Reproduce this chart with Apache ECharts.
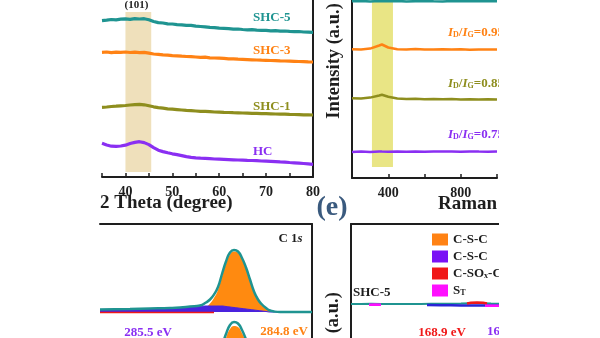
<!DOCTYPE html>
<html><head><meta charset="utf-8">
<script src="https://cdn.jsdelivr.net/npm/echarts@6/dist/echarts.min.js"></script>
<style>html,body{margin:0;padding:0;background:#fff}#c{width:600px;height:338px}</style>
</head><body><div id="c"></div>
<script>
const SERIF = '"Liberation Serif","Times New Roman",serif';

// ---------- XRD (2 Theta) ----------
const twoTheta = [35,36,37,38,39,40,41,42,43,44,45,46,47,48,49,50,51,52,53,54,55,56,57,58,59,60,61,62,63,64,65,66,67,68,69,70,71,72,73,74,75,76,77,78,79,80];
const xrdSHC5 = [156.3,156.8,157.5,157.2,157.8,158.2,157.6,158.4,158.0,158.3,157.2,155.5,154.4,154.0,153.2,153.0,152.4,152.2,151.7,151.6,150.8,150.5,150.2,149.6,149.4,148.8,148.6,148.4,147.9,148.0,147.5,147.2,147.3,146.9,146.6,146.7,146.2,146.3,145.9,146.0,145.6,145.4,145.5,145.0,144.9,144.7];
const xrdSHC3 = [124.7,125.0,124.4,124.9,124.6,125.0,124.5,124.8,124.4,124.6,123.8,123.0,122.7,122.1,121.8,121.4,121.2,120.8,120.5,120.3,120.0,119.7,119.8,119.2,119.0,118.8,118.6,118.2,118.1,117.8,117.6,117.4,117.2,117.0,116.8,116.7,116.5,116.4,116.1,116.0,115.9,115.7,115.5,115.4,115.1,115.0];
const xrdSHC1 = [69.7,70.0,70.5,70.8,71.2,71.5,72.0,72.4,72.7,72.2,71.2,70.2,69.4,68.8,68.2,67.8,67.4,67.0,66.6,66.3,66.0,65.7,65.6,65.3,65.0,64.8,64.6,64.5,64.3,64.2,64.0,63.9,63.7,63.7,63.4,63.3,63.2,63.0,62.9,62.8,62.6,62.5,62.4,62.2,62.1,62.0];
const xrdHC = [33.7,32.0,30.8,30.6,31.0,31.8,33.5,34.6,35.3,34.4,32.4,29.4,26.8,25.4,24.2,23.2,22.4,21.4,20.4,19.7,19.2,18.8,18.6,18.3,18.0,17.8,17.6,17.4,17.2,17.0,16.8,16.6,16.5,16.3,16.0,15.8,15.6,15.4,15.1,14.9,14.5,14.2,13.9,13.5,13.1,12.7];
const xrdBand = [40, 45.5];
const xrdBandY = [5, 165];

// ---------- Raman ----------
const ramanShift = [200,250,300,350,365,400,450,500,550,600,650,700,750,800,850,900,950,1000];
const ramanSHC5 = [176.8,177.0,176.6,176.9,176.7,176.8,177.0,176.6,176.8,176.9,176.7,176.6,176.9,176.8,176.7,176.9,176.8,176.7];
const ramanSHC3 = [128.7,128.6,129.4,132.5,133.5,130.5,128.8,128.5,129.0,128.6,128.4,128.8,128.5,128.7,128.3,128.6,128.4,128.5];
const ramanSHC1 = [79.7,79.5,80.4,82.5,83.2,81.2,79.5,79.0,79.2,78.8,79.0,78.7,78.9,78.6,78.8,78.5,78.7,78.4];
const ramanHC = [26.0,26.4,26.1,26.5,26.4,26.2,26.6,26.3,26.5,26.2,26.6,26.4,26.5,26.3,26.6,26.4,26.3,26.5];
const ramanBand = [310, 426];
const ramanBandY = [11, 178];
const ramanRatios = ['0.95', '0.85', '0.75'];

// ---------- XPS C 1s ----------
const c1sBE = [291.5,290,289,288,287.5,287,286.5,286.2,286.0,285.8,285.6,285.4,285.2,285.0,284.8,284.6,284.4,284.2,284.0,283.8,283.6,283.4,283.2,283.0,282.8,282.5,282,281.5,280.9];
const c1sSp2 = [112,112,112,112,112,112.5,113.5,117,120.5,126,134,147.5,160,169.5,172.5,171,164.5,155,143,131,123.5,118.5,115.5,113,112.5,112,112,112,112];
const c1sCS = [114.5,115,115.5,116,116.5,117,117.5,118,118,118,118,118,117.5,117,116.5,116,115.5,115,114.5,114,113.5,113,112.5,112,112,112,112,112,112];
const c1sTotal = [114.5,115,115.5,116,116.5,117.5,118.5,121.5,124.5,129.5,137,150,162.5,171.5,174,172.5,166,156.5,144.5,132.5,124.5,119.5,116,113.5,112.5,112,112,112,112];
const c1sRedBE = [291.5,290,288.5,287,285.8];
const c1sRed = [111.4,111.6,111.4,111.6,111.5];
const c1sBE2 = [286.0,285.8,285.6,285.4,285.2,285.0,284.8,284.6,284.4,284.2,284.0,283.8,283.6];
const c1sTotal2 = [52,57,65,78,90,99,102,100.5,94,84.5,72.5,60.5,52.5];
const c1sSp2b = [48,53,60,73,86,95,98,97,91,82,70,58,50];
const c1sBaseline = 112;

// ---------- XPS S 2p ----------
const s2pBE = [173,172.5,172,171.5,171,170.5,170,169.5,169,168.5,168,167.5,167,166.5,166,165.5,165,164.5,164];
const s2pSHC5 = [120,120,120.2,120,120,120.1,120,120,120.2,120.3,120.3,120.5,120.8,120.8,120.5,120.3,120.2,120,120];
const s2pCSC1BE = [165,164.5,164,163.5];
const s2pCSC1 = [119,119.2,119.2,119];
const s2pCSC2BE = [169.2,168.5,168,167.5,167,166.5,166,165.5,165,164.5,164];
const s2pCSC2 = [119,118.8,118.8,118.6,118.6,118.5,118.5,118.6,118.6,118.7,118.8];
const s2pCSOxBE = [167.2,167,166.7,166.4,166.2];
const s2pCSOx = [120.5,121.3,121.5,121.3,120.5];
const s2pSTBE = [172.1,171.8,171.5,171.4,166.3,165.9,165.5];
const s2pST = [119.2,119.4,119.2,'-',118.2,118.3,118.2];

const C = {teal:'#1f9491', orange:'#ff8214', olive:'#8e8e1e', purple:'#8a2ff2',
           dark:'#1e1e1e', blue:'#4a22de', red:'#f01818', magenta:'#ff10ff', legPurple:'#7a12f5'};

const zip = (xs, ys) => xs.map((x, i) => [x, ys[i]]);

const axisLineStyle = {color: C.dark, width: 2};
const tickLabel = {color: C.dark, fontFamily: SERIF, fontWeight: 'bold', fontSize: 14, margin: 8};

function lineS(name, xi, xs, ys, color, width, extra) {
  return Object.assign({
    name, type: 'line', xAxisIndex: xi, yAxisIndex: xi, data: zip(xs, ys),
    symbol: 'none', silent: true, z: 3, color: color,
    lineStyle: {color: color, width: width}
  }, extra || {});
}

const series = [
  {type:'line', xAxisIndex:0, yAxisIndex:0, data:[], z:1, silent:true,
   markArea:{silent:true, itemStyle:{color:'#efe0bb'}, data:[[{coord:[xrdBand[0], xrdBandY[0]]},{coord:[xrdBand[1], xrdBandY[1]]}]]}},
  lineS('XRD SHC-5', 0, twoTheta, xrdSHC5, C.teal, 3.2),
  lineS('XRD SHC-3', 0, twoTheta, xrdSHC3, C.orange, 3.2),
  lineS('XRD SHC-1', 0, twoTheta, xrdSHC1, C.olive, 3.2),
  lineS('XRD HC', 0, twoTheta, xrdHC, C.purple, 3.2),

  {type:'line', xAxisIndex:1, yAxisIndex:1, data:[], z:1, silent:true,
   markArea:{silent:true, itemStyle:{color:'#e9e585'}, data:[[{coord:[ramanBand[0], ramanBandY[0]]},{coord:[ramanBand[1], ramanBandY[1]]}]]}},
  lineS('Raman SHC-5', 1, ramanShift, ramanSHC5, C.teal, 2.5),
  lineS('Raman SHC-3', 1, ramanShift, ramanSHC3, C.orange, 2.5),
  lineS('Raman SHC-1', 1, ramanShift, ramanSHC1, C.olive, 2.5),
  lineS('Raman HC', 1, ramanShift, ramanHC, C.purple, 2.5),

  lineS('C1s sp2', 2, c1sBE, c1sSp2, C.orange, 0, {smooth:true, areaStyle:{color:'#ff8a10', opacity:1, origin:c1sBaseline}}),
  lineS('C1s C-S', 2, c1sBE, c1sCS, C.blue, 1, {smooth:true, areaStyle:{color:C.blue, opacity:1, origin:c1sBaseline}}),
  lineS('C1s red', 2, c1sRedBE, c1sRed, C.red, 1.5),
  lineS('C1s total', 2, c1sBE, c1sTotal, C.teal, 2.5, {smooth:true}),
  lineS('C1s sp2 b', 2, c1sBE2, c1sSp2b, C.orange, 0, {smooth:true, areaStyle:{color:'#ff8a10', opacity:1}}),
  lineS('C1s total b', 2, c1sBE2, c1sTotal2, C.teal, 2.5, {smooth:true}),

  lineS('SHC-5 S2p', 3, s2pBE, s2pSHC5, C.teal, 2),
  lineS('C-S-C 3/2', 3, s2pCSC1BE, s2pCSC1, C.orange, 2.5),
  lineS('C-S-C 1/2', 3, s2pCSC2BE, s2pCSC2, C.legPurple, 2.5, {lineStyle:{color:'#2a24d6', width:2.5}}),
  lineS('C-SOx-C', 3, s2pCSOxBE, s2pCSOx, C.red, 2.5),
  lineS('ST', 3, s2pSTBE, s2pST, C.magenta, 2.5)
];

const legendText = {'C-S-C 3/2':'C-S-C', 'C-S-C 1/2':'C-S-C', 'C-SOx-C':'C-SO{sub|x}-C', 'ST':'S{sub|T}'};

function T(text, x, y, size, color, opts) {
  opts = opts || {};
  return Object.assign({
    type:'text', x:x, y:y, z:50, silent:true,
    style:{text:text, font:(opts.italic?'italic ':'') + (opts.weight||'bold') + ' ' + size + 'px ' + SERIF,
           fill:color, align:opts.align||'left', textAlign:opts.align||'left',
           verticalAlign:'middle', textVerticalAlign:'middle', rich:opts.rich}
  }, opts.el || {});
}

function ratioLabel(val, color, x, y) {
  const base = {fill:color, fontFamily:SERIF, fontWeight:'bold', fontSize:13, lineHeight:14, verticalAlign:'bottom'};
  return T('{i|I}{s|D}{n|/}{i|I}{s|G}{n|=' + val + '}', x, y, 13, color, {rich:{
    i: Object.assign({}, base, {fontStyle:'italic'}),
    n: base,
    s: Object.assign({}, base, {fontSize:8, lineHeight:11})
  }});
}

const graphics = [
  T('(101)', 136.5, 5, 11, C.dark, {align:'center'}),
  T('SHC-5', 253, 18, 13, C.teal),
  T('SHC-3', 253, 50.5, 13, C.orange),
  T('SHC-1', 253, 107, 13, C.olive),
  T('HC', 253, 151.5, 13, C.purple),
  T('2 Theta (degree)', 100, 203, 19, C.dark),
  T('Raman shift (cm\u207B\u00B9)', 438, 204, 19, C.dark),
  T('Intensity (a.u.)', 334, 61, 18.5, C.dark, {align:'center', el:{rotation:Math.PI/2}}),
  T('(e)', 332, 208, 28, '#3a5a7e', {align:'center'}),
  ratioLabel(ramanRatios[0], C.orange, 448, 32),
  ratioLabel(ramanRatios[1], C.olive, 448, 83),
  ratioLabel(ramanRatios[2], C.purple, 448, 134),
  T('C 1{it|s}', 290.5, 239, 13, C.dark, {align:'center', rich:{it:{fill:C.dark, fontFamily:SERIF, fontWeight:'bold', fontStyle:'italic', fontSize:13}}}),
  T('285.5 eV', 148, 333, 13, C.purple, {align:'center'}),
  T('284.8 eV', 284, 332, 13, C.orange, {align:'center'}),
  T('SHC-5', 353, 293, 13, C.dark),
  T('168.9 eV', 442, 333, 13, C.red, {align:'center'}),
  T('163.9 eV', 487, 332, 13, C.purple),
  T('Intensity (a.u.)', 333, 350, 18.5, C.dark, {align:'center', el:{rotation:Math.PI/2}}),
  {type:'rect', z:100, silent:true, shape:{x:499, y:0, width:101, height:338}, style:{fill:'#ffffff'}}
];

const hiddenY = (pos, max) => ({type:'value', position:pos, min:0, max:max,
  axisLine:{show:true, onZero:false, lineStyle:axisLineStyle}, axisTick:{show:false}, axisLabel:{show:false}, splitLine:{show:false}});

const option = {
  animation:false,
  backgroundColor:'#ffffff',
  grid:[
    {left:102, top:0, width:211, height:177, outerBoundsMode:'none', containLabel:false},
    {left:352, top:0, width:145, height:178, outerBoundsMode:'none', containLabel:false},
    {left:100, top:224, width:212, height:200, outerBoundsMode:'none', containLabel:false},
    {left:351, top:224, width:260, height:200, outerBoundsMode:'none', containLabel:false}
  ],
  xAxis:[
    {type:'value', gridIndex:0, min:35, max:80, interval:5,
     axisLine:{lineStyle:axisLineStyle, onZero:false},
     axisTick:{inside:true, length:4, lineStyle:{color:C.dark, width:1.5}},
     axisLabel:Object.assign({}, tickLabel, {formatter:v => v % 10 === 0 ? String(v) : '', showMinLabel:true, showMaxLabel:true}),
     splitLine:{show:false}},
    {type:'value', gridIndex:1, min:200, max:1000, interval:200,
     axisLine:{lineStyle:axisLineStyle, onZero:false},
     axisTick:{inside:true, length:4, lineStyle:{color:C.dark, width:1.5}},
     axisLabel:Object.assign({}, tickLabel, {formatter:v => (v % 400 === 0) ? String(v) : ''}),
     splitLine:{show:false}},
    {type:'value', gridIndex:2, position:'top', inverse:true, min:280.9, max:291.5,
     axisLine:{lineStyle:axisLineStyle, onZero:false}, axisTick:{show:false}, axisLabel:{show:false}, splitLine:{show:false}},
    {type:'value', gridIndex:3, position:'top', inverse:true, min:160, max:173,
     axisLine:{lineStyle:axisLineStyle, onZero:false}, axisTick:{show:false}, axisLabel:{show:false}, splitLine:{show:false}}
  ],
  yAxis:[
    Object.assign(hiddenY('right', 177), {gridIndex:0}),
    Object.assign(hiddenY('left', 178), {gridIndex:1}),
    Object.assign(hiddenY('right', 200), {gridIndex:2}),
    Object.assign(hiddenY('left', 200), {gridIndex:3})
  ],
  legend:{
    data:['C-S-C 3/2','C-S-C 1/2','C-SOx-C','ST'],
    orient:'vertical', left:432, top:233, padding:0, itemGap:4,
    itemWidth:16, itemHeight:12, icon:'rect', selectedMode:false,
    formatter:name => legendText[name],
    textStyle:{color:C.dark, fontFamily:SERIF, fontWeight:'bold', fontSize:13,
      rich:{sub:{color:C.dark, fontFamily:SERIF, fontWeight:'bold', fontSize:8, verticalAlign:'bottom', lineHeight:12}}}
  },
  series:series,
  graphic:{elements:graphics}
};

const chart = echarts.init(document.getElementById('c'), null, {renderer:'canvas'});
chart.setOption(option);
</script>
</body></html>
